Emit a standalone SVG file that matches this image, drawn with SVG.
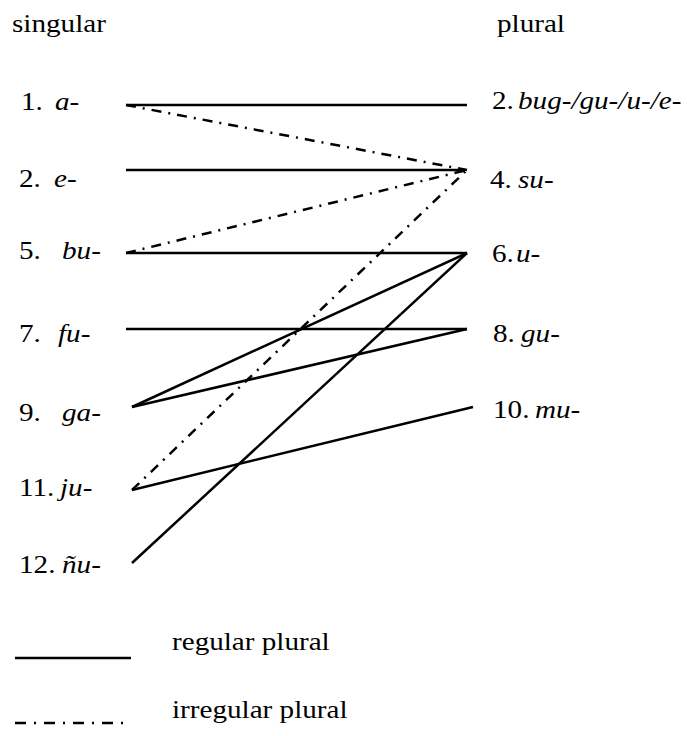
<svg xmlns="http://www.w3.org/2000/svg" width="687" height="736" viewBox="0 0 687 736">
<style>
text{font-family:'Liberation Serif','DejaVu Serif','Times New Roman',Times,serif;font-size:24.5px;fill:#000}
.i{font-style:italic}
.s{stroke:#000;stroke-width:2.5;fill:none}
.d{stroke:#000;stroke-width:2.5;fill:none;stroke-dasharray:10 7 2 7}
</style>
<rect width="687" height="736" fill="#fff"/>
<g id="titles">
<text transform="matrix(1.19 0 0 1 12 32)">singular</text>
<text transform="matrix(1.19 0 0 1 497 32)">plural</text>
</g>
<g id="s1"><text transform="matrix(1.19 0 0 1 21 110)">1.</text><text class="i" transform="matrix(1.19 0 0 1 55 110)">a-</text></g>
<g id="s2"><text transform="matrix(1.19 0 0 1 19 187)">2.</text><text class="i" transform="matrix(1.19 0 0 1 54 187)">e-</text></g>
<g id="s5"><text transform="matrix(1.19 0 0 1 19 259)">5.</text><text class="i" transform="matrix(1.19 0 0 1 62 259)">bu-</text></g>
<g id="s7"><text transform="matrix(1.19 0 0 1 19 342)">7.</text><text class="i" transform="matrix(1.19 0 0 1 58 342)">fu-</text></g>
<g id="s9"><text transform="matrix(1.19 0 0 1 19 421)">9.</text><text class="i" transform="matrix(1.19 0 0 1 62 421)">ga-</text></g>
<g id="s11"><text transform="matrix(1.19 0 0 1 19 496)">11.</text><text class="i" transform="matrix(1.19 0 0 1 60 496)">ju-</text></g>
<g id="s12"><text transform="matrix(1.19 0 0 1 19 573)">12.</text><text class="i" transform="matrix(1.19 0 0 1 62 573)">ñu-</text></g>
<g id="p2"><text transform="matrix(1.19 0 0 1 492 109)">2.</text><text class="i" transform="matrix(1.19 0 0 1 518 109)">bug-/gu-/u-/e-</text></g>
<g id="p4"><text transform="matrix(1.19 0 0 1 490 188)">4.</text><text class="i" transform="matrix(1.19 0 0 1 518 188)">su-</text></g>
<g id="p6"><text transform="matrix(1.19 0 0 1 492 262)">6.</text><text class="i" transform="matrix(1.19 0 0 1 516 262)">u-</text></g>
<g id="p8"><text transform="matrix(1.19 0 0 1 493 342)">8.</text><text class="i" transform="matrix(1.19 0 0 1 521 342)">gu-</text></g>
<g id="p10"><text transform="matrix(1.19 0 0 1 493 418)">10.</text><text class="i" transform="matrix(1.19 0 0 1 535 418)">mu-</text></g>
<g id="connectors">
<line class="s" x1="126" y1="105" x2="467" y2="105"/>
<line class="d" x1="126" y1="105" x2="467" y2="170"/>
<line class="s" x1="126" y1="170" x2="465" y2="170"/>
<line class="d" x1="126" y1="253" x2="467" y2="170"/>
<line class="s" x1="126" y1="253" x2="467" y2="253"/>
<line class="s" x1="126" y1="329" x2="467" y2="329"/>
<line class="s" x1="132" y1="407" x2="467" y2="253"/>
<line class="s" x1="132" y1="407" x2="467" y2="329"/>
<line class="s" x1="132" y1="490" x2="473" y2="407"/>
<line class="d" x1="132" y1="490" x2="467" y2="170"/>
<line class="s" x1="132" y1="563" x2="467" y2="253"/>
</g>
<g id="legend">
<line class="s" x1="15" y1="658" x2="131" y2="658"/>
<text transform="matrix(1.19 0 0 1 172 650)">regular plural</text>
<line class="d" x1="15" y1="723" x2="124" y2="723" style="stroke-dasharray:11 8 2 8"/>
<text transform="matrix(1.19 0 0 1 172 718)">irregular plural</text>
</g>
</svg>
